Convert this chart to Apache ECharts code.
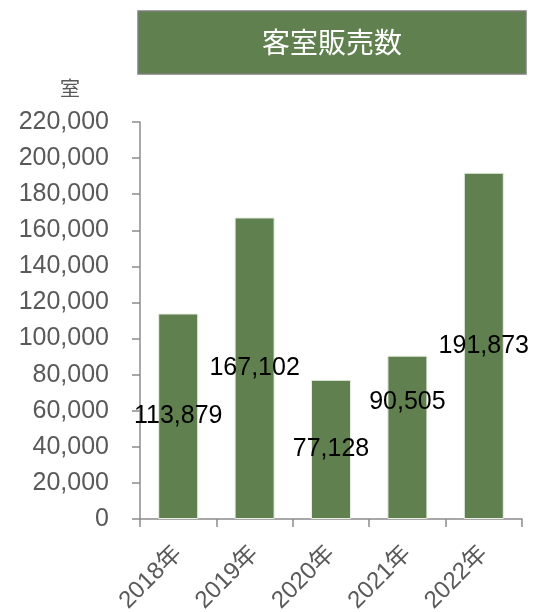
<!DOCTYPE html>
<html>
<head>
<meta charset="utf-8">
<script src="https://cdn.jsdelivr.net/npm/echarts@6/dist/echarts.min.js"></script>
<style>
  html, body { margin: 0; padding: 0; background: #fff; }
  #main { width: 535px; height: 612px; }
</style>
</head>
<body>
<div id="main"></div>
<script>
var years = ['2018年', '2019年', '2020年', '2021年', '2022年']
var rooms = [113879, 167102, 77128, 90505, 191873]
var chartTitle = '客室販売数'
var unitName = '室'

var green = '#61804f'
var gray = '#595959'
var font = '"Liberation Sans", Arial, "Noto Sans CJK JP", sans-serif'

// 2021年 label sits higher in the original so it clears 77,128
var barData = rooms.map(function (v, i) {
  if (i === 3) return { value: v, label: { offset: [0, -35] } }
  return v
})

var chart = echarts.init(document.getElementById('main'))
var option = {
  animation: false,
  textStyle: { fontFamily: font },
  grid: {
    left: 140,
    right: 13,
    top: 122,
    bottom: 93,
    containLabel: false,
    outerBoundsMode: 'none'
  },
  graphic: [
    {
      type: 'rect',
      shape: { x: 138, y: 11, width: 388, height: 63 },
      style: { fill: green, stroke: '#7f7f7f', lineWidth: 1.5 }
    },
    {
      type: 'text',
      x: 332, y: 42,
      style: {
        text: chartTitle,
        fill: '#fff',
        font: '28px "Noto Sans CJK JP", sans-serif',
        textAlign: 'center',
        textVerticalAlign: 'middle'
      }
    },
    {
      type: 'text',
      x: 70, y: 88,
      style: {
        text: unitName,
        fill: gray,
        font: '20px "Noto Sans CJK JP", sans-serif',
        textAlign: 'center',
        textVerticalAlign: 'middle'
      }
    }
  ],
  xAxis: {
    type: 'category',
    data: years,
    axisLine: { lineStyle: { color: '#8c8c8c', width: 1.5 } },
    axisTick: { show: true, length: 8, lineStyle: { color: '#8c8c8c', width: 1.5 } },
    axisLabel: {
      rotate: 45,
      color: gray,
      fontSize: 24,
      margin: 31,
      fontFamily: font
    }
  },
  yAxis: {
    type: 'value',
    min: 0,
    max: 220000,
    interval: 20000,
    splitLine: { show: false },
    axisLine: { show: true, lineStyle: { color: '#8c8c8c', width: 1.5 } },
    axisTick: { show: true, length: 8, lineStyle: { color: '#8c8c8c', width: 1.5 } },
    axisLabel: {
      color: gray,
      fontSize: 25,
      margin: 31,
      fontFamily: font,
      formatter: function (v) { return v.toLocaleString('en-US') }
    }
  },
  series: [{
    type: 'bar',
    data: barData,
    barWidth: 40,
    itemStyle: { color: green, borderColor: '#e8eee4', borderWidth: 1 },
    label: {
      show: true,
      position: 'inside',
      color: '#000',
      fontSize: 25,
      fontFamily: font,
      formatter: function (p) { return p.value.toLocaleString('en-US') }
    }
  }]
}
chart.setOption(option)
</script>
</body>
</html>
